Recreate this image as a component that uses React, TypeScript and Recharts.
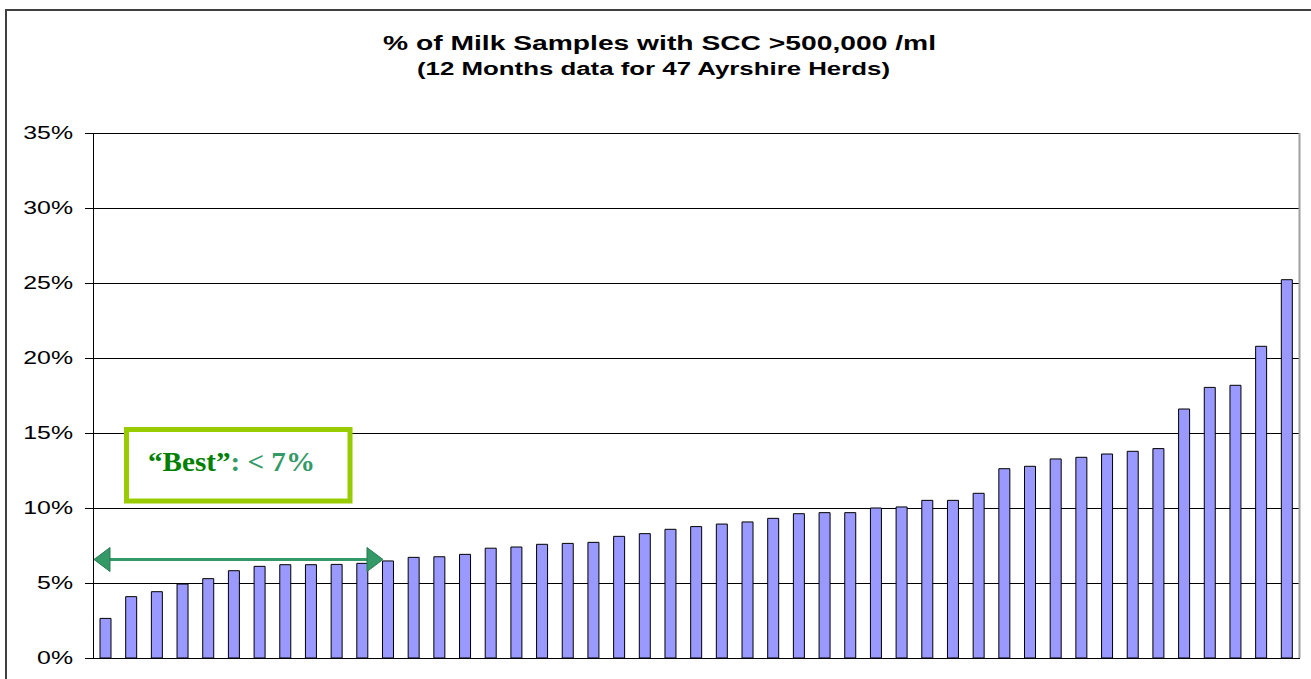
import { Bar, BarChart, CartesianGrid, XAxis, YAxis } from "recharts";

// % of samples >500,000 /ml, one value per herd, sorted ascending
const herds = Array.from({ length: 47 }, (_, i) => `H${i + 1}`);
const pctOver500k = [
  2.64, 4.09, 4.42, 4.93, 5.29, 5.82, 6.11, 6.22, 6.22, 6.24, 6.31, 6.47,
  6.71, 6.75, 6.91, 7.32, 7.4, 7.58, 7.64, 7.71, 8.11, 8.29, 8.58, 8.76,
  8.93, 9.07, 9.31, 9.62, 9.69, 9.69, 10.0, 10.07, 10.51, 10.51, 10.98, 12.62,
  12.78, 13.27, 13.38, 13.6, 13.78, 13.96, 16.6, 18.04, 18.18, 20.78, 25.22,
];
const yTicks = [0, 5, 10, 15, 20, 25, 30, 35];

const data = herds.map((herd, i) => ({ herd, pct: pctOver500k[i] }));

const FONT = "'Liberation Sans', Arial, sans-serif";

function PctTick({ x, y, payload }: any) {
  return (
    <text
      transform={`translate(${x},${y}) scale(1.38,1)`}
      textAnchor="end"
      dominantBaseline="central"
      fontFamily={FONT}
      fontSize={18}
      fill="#000"
    >
      {`${payload.value}%`}
    </text>
  );
}

export default function App() {
  return (
    <div style={{ position: "fixed", left: 0, top: 0, width: 1311, height: 679, background: "#fff", overflow: "hidden" }}>
      <BarChart
        width={1311}
        height={679}
        data={data}
        margin={{ top: 133, right: 11, bottom: 21, left: 0 }}
        barCategoryGap="10%"
      >
        <CartesianGrid vertical={false} stroke="#000" strokeOpacity={1} shapeRendering="crispEdges" />
        <XAxis dataKey="herd" height={0} tick={false} tickLine={false} axisLine={{ stroke: "#808080", shapeRendering: "crispEdges" }} />
        <YAxis
          width={93}
          domain={[0, 35]}
          ticks={yTicks}
          interval={0}
          tick={<PctTick />}
          tickSize={8}
          tickMargin={12}
          tickLine={{ stroke: "#000", shapeRendering: "crispEdges" }}
          axisLine={{ stroke: "#000", shapeRendering: "crispEdges" }}
        />
        <Bar dataKey="pct" fill="#9999FF" stroke="#000" strokeWidth={1} barSize={11} isAnimationActive={false} />
      </BarChart>

      <svg width={1311} height={679} style={{ position: "absolute", left: 0, top: 0, pointerEvents: "none" }}>
        {/* outer frame */}
        <line x1={5} y1={10} x2={1311} y2={10} stroke="#404040" strokeWidth={2} />
        <line x1={6} y1={10} x2={6} y2={679} stroke="#404040" strokeWidth={2} />
        {/* plot area right edge */}
        <line x1={1299.5} y1={133} x2={1299.5} y2={658} stroke="#a0a0a0" strokeWidth={2} />

        <text
          x={659.5}
          y={50}
          textAnchor="middle"
          fontFamily={FONT}
          fontWeight="bold"
          fontSize={20}
          textLength={553}
          lengthAdjust="spacingAndGlyphs"
        >
          % of Milk Samples with SCC &gt;500,000 /ml
        </text>
        <text
          x={653.5}
          y={75}
          textAnchor="middle"
          fontFamily={FONT}
          fontWeight="bold"
          fontSize={18}
          textLength={473}
          lengthAdjust="spacingAndGlyphs"
        >
          (12 Months data for 47 Ayrshire Herds)
        </text>

        {/* "Best" annotation box */}
        <rect x={126.5} y={429.5} width={223.5} height={71.5} fill="#fff" stroke="#99CC00" strokeWidth={5} />
        <text
          x={148}
          y={471}
          fontFamily="'Liberation Serif', 'Times New Roman', serif"
          fontWeight="bold"
          fontSize={28}
          textLength={167}
          lengthAdjust="spacingAndGlyphs"
        >
          <tspan fill="#008000">{"\u201CBest\u201D"}</tspan>
          <tspan fill="#339966">{": < 7%"}</tspan>
        </text>

        {/* double-headed arrow */}
        <line x1={108} y1={559.5} x2={369} y2={559.5} stroke="#339966" strokeWidth={3} />
        <polygon points="94,559.5 110,547.5 110,571.5" fill="#339966" stroke="#2a7a52" strokeWidth={1} />
        <polygon points="383,559.5 367,547.5 367,571.5" fill="#339966" stroke="#2a7a52" strokeWidth={1} />
      </svg>
    </div>
  );
}
